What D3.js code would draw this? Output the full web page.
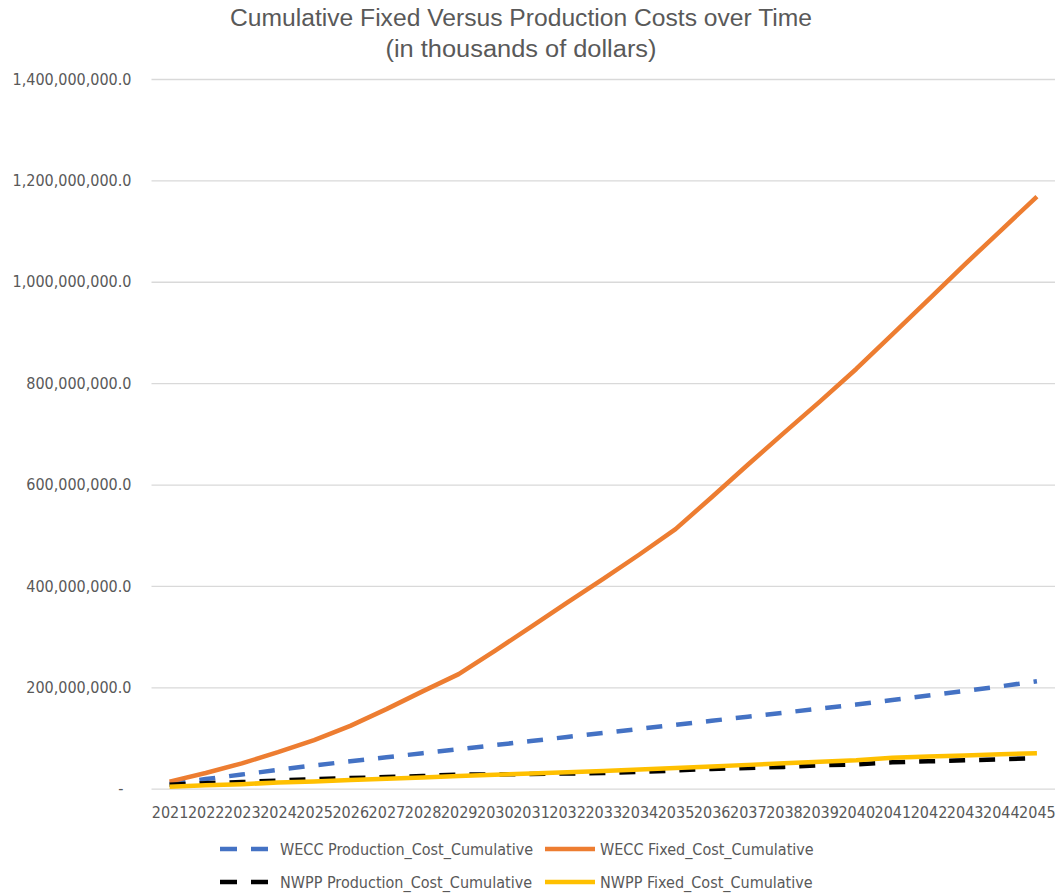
<!DOCTYPE html>
<html>
<head>
<meta charset="utf-8">
<script src="https://d3js.org/d3.v7.min.js"></script>
<style>
  body { margin: 0; background: #fff; }
  text { font-family: "DejaVu Sans Condensed", "DejaVu Sans", sans-serif; font-stretch: condensed; fill: #595959; }
  .title { font-family: "Liberation Sans", sans-serif; font-stretch: normal; }
</style>
</head>
<body>
<script>
// ---------------------------------------------- Data ------------------------------------------------- //
var years = d3.range(2021, 2046).map(String);

// values in thousands of dollars (millions below, scaled later)
var wecc_production = [10, 19, 28, 37, 46, 54, 62, 70, 78, 86, 94, 102, 110, 118, 126,
                       134, 142, 150, 158, 166, 175, 184, 193, 202, 212];
var wecc_fixed = [14, 31, 50, 72, 96, 124, 157, 192, 226, 272, 319, 367, 414, 462, 512,
                  575, 639, 702, 764, 828, 896, 965, 1034, 1101, 1168];
var nwpp_production = [8, 11, 13, 16, 19, 21, 23, 25, 28, 28, 29, 30, 31, 33, 36,
                       39, 41, 43, 46, 48, 52, 54, 56, 58, 60];
var nwpp_fixed = [4, 7, 9, 12, 14, 17, 19.5, 22, 25, 27.5, 30, 32.5, 35, 38, 41,
                  44, 47, 50, 53, 56, 61, 63.5, 65.5, 68, 70];

var series_names = ["WECC Production_Cost_Cumulative", "WECC Fixed_Cost_Cumulative",
                    "NWPP Production_Cost_Cumulative", "NWPP Fixed_Cost_Cumulative"];
var series_colors = ["#4472C4", "#ED7D31", "#000000", "#FFC000"];
var series_dashed = [true, false, true, false];
var y_ticks = [0, 200e6, 400e6, 600e6, 800e6, 1000e6, 1200e6, 1400e6];

var series = [wecc_production, wecc_fixed, nwpp_production, nwpp_fixed].map(function(vals, i) {
    return {
        name: series_names[i],
        color: series_colors[i],
        dashed: series_dashed[i],
        values: vals.map(function(v, j) { return {year: years[j], value: v * 1e6}; })
    };
});

// --------------------------------------------- Init SVG ---------------------------------------------- //
var width = 1056, height = 893;
var plot = {left: 151.5, right: 1055, top: 79, bottom: 788.7};

var svg = d3.select("body")
    .append("svg")
    .attr("width", width)
    .attr("height", height);

var x = d3.scalePoint()
    .domain(years)
    .range([plot.left, plot.right])
    .padding(0.5);

var y = d3.scaleLinear()
    .domain([0, 1400e6])
    .range([plot.bottom, plot.top]);

// ----------------------------------------------- Title ----------------------------------------------- //
svg.append("text")
    .attr("class", "title")
    .attr("x", 521).attr("y", 26)
    .attr("text-anchor", "middle")
    .attr("font-size", 23)
    .attr("textLength", 582)
    .attr("lengthAdjust", "spacingAndGlyphs")
    .text("Cumulative Fixed Versus Production Costs over Time");
svg.append("text")
    .attr("class", "title")
    .attr("x", 521).attr("y", 57)
    .attr("text-anchor", "middle")
    .attr("font-size", 23)
    .attr("textLength", 271)
    .attr("lengthAdjust", "spacingAndGlyphs")
    .text("(in thousands of dollars)");

// ------------------------------------------------ Axes ----------------------------------------------- //
var yAxis = svg.append("g")
    .attr("transform", "translate(" + plot.left + ",0)")
    .call(d3.axisLeft(y)
        .tickValues(y_ticks)
        .tickSize(-(plot.right - plot.left))
        .tickPadding(20)
        .tickFormat(function(d) { return d === 0 ? "-" : d3.format(",.1f")(d); }));
yAxis.select(".domain").remove();
yAxis.selectAll(".tick line").attr("stroke", "#D9D9D9").attr("stroke-width", 1.3);
yAxis.selectAll(".tick text")
    .attr("font-size", 16)
    .attr("fill", "#595959")
    .style("font-family", null);
yAxis.selectAll(".tick text").filter(function(d) { return d === 0; }).attr("x", -28);

var xAxis = svg.append("g")
    .attr("transform", "translate(0," + plot.bottom + ")")
    .call(d3.axisBottom(x).tickSize(0).tickPadding(18));
xAxis.select(".domain").remove();
xAxis.selectAll(".tick text")
    .attr("font-size", 16)
    .attr("fill", "#595959");

// ------------------------------------------------ Lines ---------------------------------------------- //
var line = d3.line()
    .x(function(d) { return x(d.year); })
    .y(function(d) { return y(d.value); });

svg.append("g").attr("class", "lines")
    .selectAll("path")
    .data(series)
    .enter().append("path")
        .attr("fill", "none")
        .attr("stroke", function(d) { return d.color; })
        .attr("stroke-width", 4.5)
        .attr("stroke-linejoin", "round")
        .attr("stroke-dasharray", function(d) { return d.dashed ? "16,14" : null; })
        .attr("d", function(d) { return line(d.values); });

// ----------------------------------------------- Legend ---------------------------------------------- //
var legend_x = [220, 545],
    legend_y = [849, 882],
    sample_w = 50;

var legend = svg.append("g").attr("class", "legend")
    .selectAll("g")
    .data(series)
    .enter().append("g")
        .attr("transform", function(d, i) {
            return "translate(" + legend_x[i % 2] + "," + legend_y[Math.floor(i / 2)] + ")";
        });
legend.append("line")
    .attr("x1", 0).attr("x2", sample_w)
    .attr("stroke", function(d) { return d.color; })
    .attr("stroke-width", 4.5)
    .attr("stroke-dasharray", function(d) { return d.dashed ? "17,14" : null; });
legend.append("text")
    .attr("x", function(d, i) { return i % 2 === 0 ? 60 : 55; })
    .attr("dy", "0.35em")
    .attr("font-size", 16)
    .text(function(d) { return d.name; });
</script>
</body>
</html>
